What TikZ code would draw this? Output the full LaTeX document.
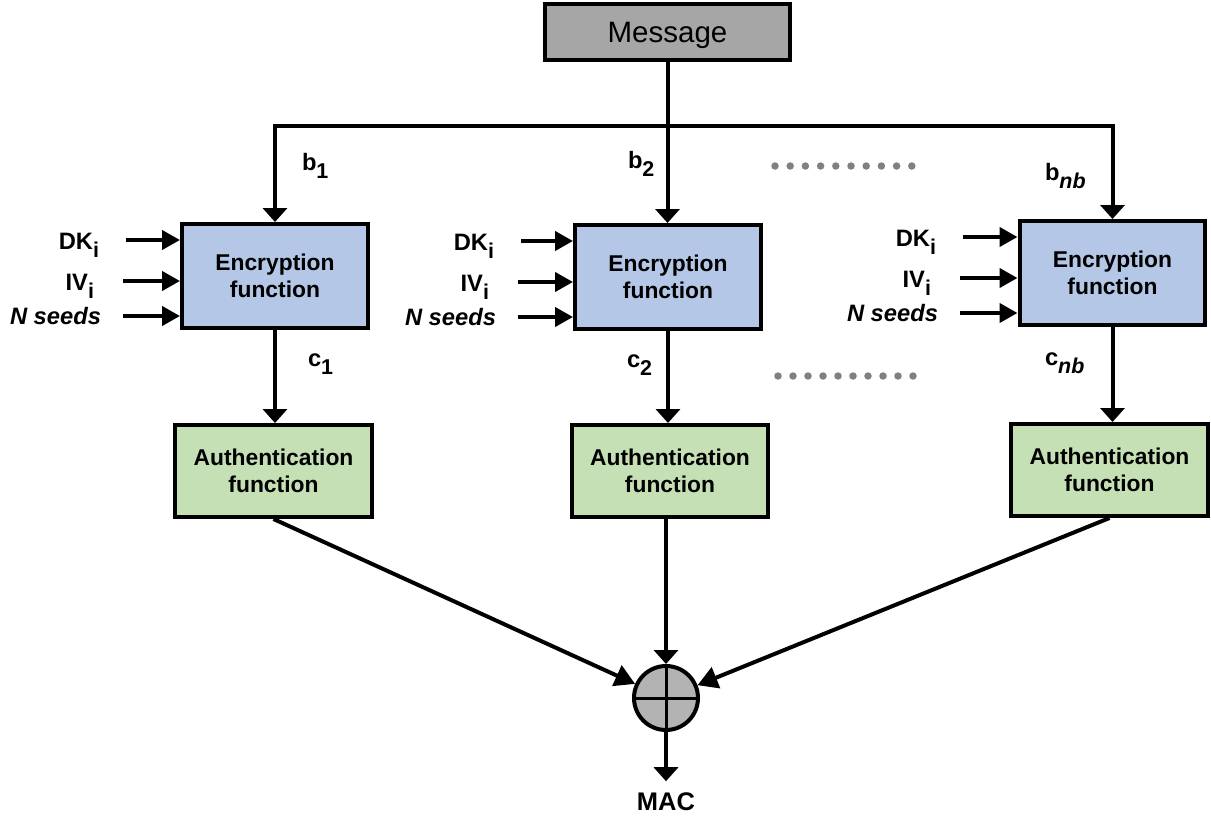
\documentclass[tikz,border=0pt]{standalone}
\usepackage{fontspec}
\setmainfont{Liberation Sans}
\usetikzlibrary{arrows.meta}
\definecolor{encblue}{HTML}{B4C7E7}
\definecolor{authgreen}{HTML}{C5E0B4}
\definecolor{msggray}{HTML}{A6A6A6}
\definecolor{xorgray}{HTML}{B3B3B3}
\definecolor{dotgray}{HTML}{808080}
% lowered index, as in DK_i, b_1, c_nb
\newcommand\idx[1]{\raisebox{-0.34em}{\fontsize{12.2}{12.2}\selectfont #1}}

\begin{document}
\begin{tikzpicture}[x=0.02cm,y=-0.02cm,
  line width=0.08cm,
  every node/.style={font=\fontsize{13}{15.5}\selectfont\bfseries},
  msgbox/.style={draw, fill=msggray, minimum width=4.9cm, minimum height=1.12cm,
    text height=12pt, text depth=0pt, font=\fontsize{16.8}{18}\selectfont},
  encbox/.style={draw, fill=encblue, minimum width=3.72cm, minimum height=2.08cm, align=center},
  authbox/.style={draw, fill=authgreen, minimum width=3.94cm, minimum height=1.84cm, align=center},
  vflow/.style={-{Triangle[length=0.28cm,width=0.48cm]}},
  hflow/.style={-{Triangle[length=0.36cm,width=0.38cm]}},
  dflow/.style={-{Triangle[length=0.4cm,width=0.44cm]}},
  lbl/.style={inner sep=0pt, anchor=base east, font=\fontsize{13.5}{15}\selectfont\bfseries},
  tag/.style={inner sep=0pt, anchor=base west, font=\fontsize{13.5}{15}\selectfont\bfseries},
  dot/.style={fill=dotgray, draw=none}]
\useasboundingbox (0,0) rectangle (1211,818);

% message source
\node[msgbox] (msg) at (667.5,32) {Message};

% encryption blocks
\node[encbox] (enc1) at (275,276) {Encryption\\function};
\node[encbox] (enc2) at (668,277) {Encryption\\function};
\node[encbox] (enc3) at (1112.5,273) {Encryption\\function};

% authentication blocks
\node[authbox] (auth1) at (273.5,471) {Authentication\\function};
\node[authbox] (auth2) at (670,471) {Authentication\\function};
\node[authbox] (auth3) at (1109.5,470) {Authentication\\function};

% XOR combiner
\node[circle, draw, fill=xorgray, minimum size=1.28cm, inner sep=0pt] (xor) at (666,698) {};
\draw[line width=0.06cm] (xor.north) -- (xor.south) (xor.west) -- (xor.east);

\node[font=\fontsize{14.5}{14.5}\selectfont\bfseries, anchor=base, inner xsep=0pt, inner ysep=0.18cm]
  (mac) at (666,810) {MAC};

% message bus splitting into blocks
\coordinate (busL) at (enc1.north |- 0,126);
\coordinate (busR) at (enc3.north |- 0,126);
\draw[line cap=rect] (busL) -- (busR);
\draw (msg.south) -- (msg.south |- busL);
\draw[vflow] (busL) -- (enc1.north);
\draw[vflow] (msg.south |- busL) -- (msg.south |- enc2.north);
\draw[vflow] (busR) -- (enc3.north);

\node[tag] (b1) at (300,170) {b\idx{1}};
\node[tag] (b2) at (626,168) {b\idx{2}};
\node[tag] (b3) at (1043,180) {b\idx{\itshape nb}};

% ciphertext blocks to authentication
\draw[vflow] (enc1.south) -- (enc1.south |- auth1.north);
\draw[vflow] (enc2.south) -- (enc2.south |- auth2.north);
\draw[vflow] (enc3.south) -- (enc3.south |- auth3.north);

\node[tag] (c1) at (306,366) {c\idx{1}};
\node[tag] (c2) at (625,367) {c\idx{2}};
\node[tag] (c3) at (1043,365) {c\idx{\itshape nb}};

% keys, IVs and seeds
\foreach \c/\sx/\sy in {1/126/240, 2/521/241, 3/963/237} {
  \coordinate (dk\c) at (\sx,\sy);
  \coordinate (iv\c) at (\sx-3,\sy+41);
  \coordinate (ns\c) at (\sx-3,\sy+76);
  \node[lbl] (dkl\c) at (\sx-25,\sy+9.5) {DK\idx{i}};
  \node[lbl] (ivl\c) at (\sx-30,\sy+50) {IV\idx{i}};
  \node[lbl] (nsl\c) at (\sx-23,\sy+84) {\itshape N seeds};
  \draw[hflow] (dk\c) -- (dk\c -| enc\c.west);
  \draw[hflow] (iv\c) -- (iv\c -| enc\c.west);
  \draw[hflow] (ns\c) -- (ns\c -| enc\c.west);
}

% ellipsis between middle and last columns
\foreach \i in {0,...,9} {
  \fill[dot] (775+\i*15.2,166) circle (0.075cm);
  \fill[dot] (778+\i*15,376) circle (0.075cm);
}

% combine into the MAC
\draw[dflow] (auth1.south) -- (xor);
\draw[vflow] (xor.north |- auth2.south) -- (xor.north);
\draw[dflow] (auth3.south) -- (xor);
\draw[vflow] (xor.south) -- (mac.north);
\end{tikzpicture}
\end{document}
